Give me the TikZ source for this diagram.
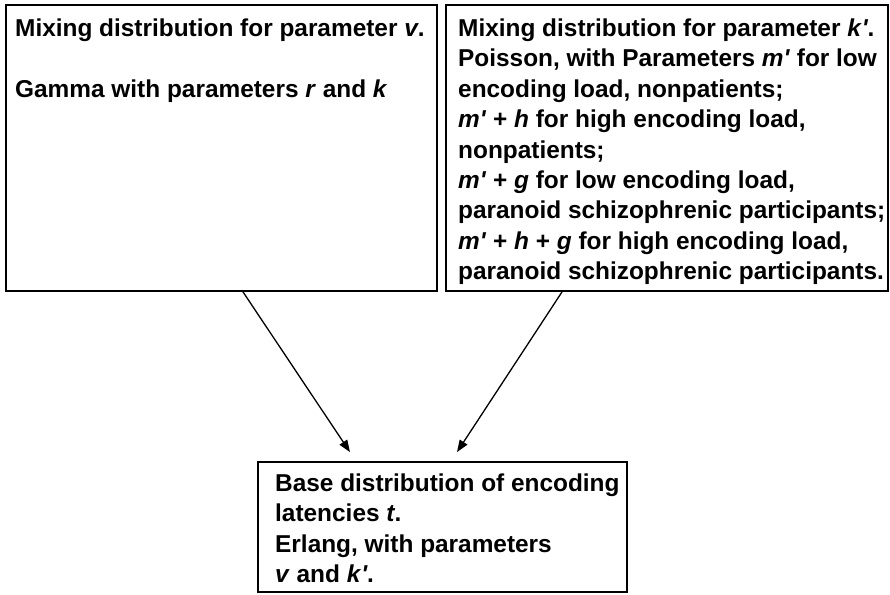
\documentclass[tikz,border=0pt]{standalone}
\usepackage{fontspec}
\setmainfont{Liberation Sans}
\usetikzlibrary{arrows.meta}
\newcommand{\vb}[1]{\textit{#1}}
\newcommand{\pq}{\textit{\textquotesingle}}
\tikzset{
  panel/.style={draw, line width=1.8pt, inner sep=0pt},
  label text/.style={anchor=north west, inner sep=0pt, align=left,
    font=\fontsize{24.4}{30.4}\selectfont\bfseries},
  link/.style={line width=1.3pt, -{Triangle[length=12pt,width=9pt]}}
}
\begin{document}
\begin{tikzpicture}[x=1pt,y=-1pt]
  \useasboundingbox (0,0) rectangle (890,594);
  % outlined boxes
  \node[panel, minimum width=431pt, minimum height=286pt] (mixv) at (221.5,148) {};
  \node[panel, minimum width=442pt, minimum height=286pt] (mixk) at (667,148) {};
  \node[panel, minimum width=369pt, minimum height=130pt] (base) at (442.5,527) {};
  % box contents
  \node[label text] (tv) at (15,18.7)
    {Mixing distribution for parameter \vb{v}.\\[30.4pt]
     Gamma with parameters \vb{r} and \vb{k}};
  \node[label text] (tk) at (458,18.7)
    {Mixing distribution for parameter \vb{k}\pq.\\
     Poisson, with Parameters \vb{m}\pq{} for low\\
     encoding load, nonpatients;\\
     \vb{m}\pq{} + \vb{h} for high encoding load,\\
     nonpatients;\\
     \vb{m}\pq{} + \vb{g} for low encoding load,\\
     paranoid schizophrenic participants;\\
     \vb{m}\pq{} + \vb{h} + \vb{g} for high encoding load,\\
     paranoid schizophrenic participants.};
  \node[label text] (tb) at (275,473.7)
    {Base distribution of encoding\\
     latencies \vb{t}.\\
     Erlang, with parameters\\
     \vb{v} and \vb{k}\pq.};
  % connectors
  \draw[link] ([xshift=21.5pt]mixv.south) -- ([xshift=-92.5pt,yshift=9pt]base.north);
  \draw[link] ([xshift=-105pt]mixk.south) -- ([xshift=14.5pt,yshift=9pt]base.north);
\end{tikzpicture}
\end{document}
